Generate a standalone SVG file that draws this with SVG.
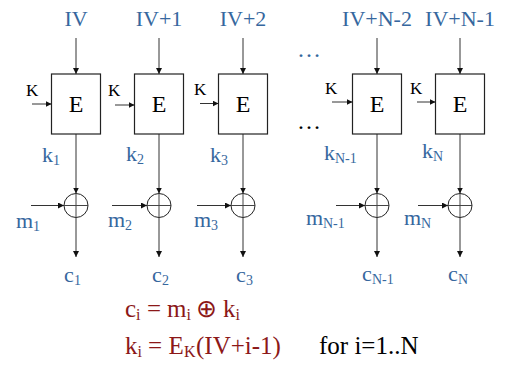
<svg xmlns="http://www.w3.org/2000/svg" width="515" height="367" viewBox="0 0 515 367" font-family="Liberation Serif, serif">
<defs>
<marker id="ah" viewBox="0 0 8 8" refX="8" refY="4" markerWidth="6" markerHeight="6" markerUnits="userSpaceOnUse" orient="auto">
<path d="M0,0 L8,4 L0,8 z" fill="#111"/>
</marker>
</defs>
<rect width="515" height="367" fill="#fff"/>

<g id="labels-top" fill="#36679E" font-size="22" text-anchor="middle">
<text x="76" y="26" font-family="Liberation Serif">IV</text>
<text x="159" y="26" font-family="Liberation Serif">IV+1</text>
<text x="243" y="26" font-family="Liberation Serif">IV+2</text>
<text x="377" y="26" font-family="Liberation Serif">IV+N-2</text>
<text x="460" y="26" font-family="Liberation Serif">IV+N-1</text>
</g>

<g id="dots" font-size="24">
<text x="297" y="57" fill="#36679E" font-family="Liberation Serif">…</text>
<text x="297" y="129" fill="#000" font-family="Liberation Serif">…</text>
</g>

<g id="connectors" stroke="#333" stroke-width="1" fill="none" marker-end="url(#ah)">
<line x1="76" y1="38" x2="76" y2="74"/>
<line x1="159" y1="38" x2="159" y2="74"/>
<line x1="243" y1="38" x2="243" y2="74"/>
<line x1="377" y1="38" x2="377" y2="74"/>
<line x1="460" y1="38" x2="460" y2="74"/>
<line x1="32" y1="104" x2="51.5" y2="104"/>
<line x1="115" y1="105" x2="134.5" y2="105"/>
<line x1="200" y1="103.5" x2="218.5" y2="103.5"/>
<line x1="332" y1="102" x2="352.5" y2="102"/>
<line x1="417" y1="102" x2="435.5" y2="102"/>
<line x1="76" y1="134" x2="76" y2="193.5"/>
<line x1="159" y1="134" x2="159" y2="193.5"/>
<line x1="243" y1="134" x2="243" y2="193.5"/>
<line x1="377" y1="134" x2="377" y2="193.5"/>
<line x1="460" y1="134" x2="460" y2="193.5"/>
<line x1="31" y1="205.5" x2="64" y2="205.5"/>
<line x1="112" y1="205.5" x2="147" y2="205.5"/>
<line x1="197" y1="205.5" x2="231" y2="205.5"/>
<line x1="336" y1="205.5" x2="365" y2="205.5"/>
<line x1="418" y1="205.5" x2="448" y2="205.5"/>
<line x1="76" y1="217.5" x2="76" y2="257"/>
<line x1="159" y1="217.5" x2="159" y2="257"/>
<line x1="243" y1="217.5" x2="243" y2="257"/>
<line x1="377" y1="217.5" x2="377" y2="257"/>
<line x1="460" y1="217.5" x2="460" y2="257"/>
</g>

<g id="enc1"><rect x="51.5" y="74" width="49" height="60" fill="#fff" stroke="#222" stroke-width="1.2"/><text x="76" y="112" font-size="24" text-anchor="middle" font-family="Liberation Serif">E</text><text x="26" y="96" font-size="17" font-family="Liberation Serif">K</text></g>
<g id="enc2"><rect x="134.5" y="74" width="49" height="60" fill="#fff" stroke="#222" stroke-width="1.2"/><text x="159" y="112" font-size="24" text-anchor="middle" font-family="Liberation Serif">E</text><text x="108" y="96" font-size="17" font-family="Liberation Serif">K</text></g>
<g id="enc3"><rect x="218.5" y="74" width="49" height="60" fill="#fff" stroke="#222" stroke-width="1.2"/><text x="243" y="112" font-size="24" text-anchor="middle" font-family="Liberation Serif">E</text><text x="194" y="95" font-size="17" font-family="Liberation Serif">K</text></g>
<g id="enc4"><rect x="352.5" y="74" width="49" height="60" fill="#fff" stroke="#222" stroke-width="1.2"/><text x="377" y="112" font-size="24" text-anchor="middle" font-family="Liberation Serif">E</text><text x="325" y="94" font-size="17" font-family="Liberation Serif">K</text></g>
<g id="enc5"><rect x="435.5" y="74" width="49" height="60" fill="#fff" stroke="#222" stroke-width="1.2"/><text x="460" y="112" font-size="24" text-anchor="middle" font-family="Liberation Serif">E</text><text x="410" y="94" font-size="17" font-family="Liberation Serif">K</text></g>

<g id="xor1" fill="none" stroke="#222"><circle cx="76" cy="205.5" r="12"/><path d="M64,205.5H88M76,193.5V217.5" stroke="#444"/></g>
<g id="xor2" fill="none" stroke="#222"><circle cx="159" cy="205.5" r="12"/><path d="M147,205.5H171M159,193.5V217.5" stroke="#444"/></g>
<g id="xor3" fill="none" stroke="#222"><circle cx="243" cy="205.5" r="12"/><path d="M231,205.5H255M243,193.5V217.5" stroke="#444"/></g>
<g id="xor4" fill="none" stroke="#222"><circle cx="377" cy="205.5" r="12"/><path d="M365,205.5H389M377,193.5V217.5" stroke="#444"/></g>
<g id="xor5" fill="none" stroke="#222"><circle cx="460" cy="205.5" r="12"/><path d="M448,205.5H472M460,193.5V217.5" stroke="#444"/></g>

<g id="k-labels" fill="#36679E" font-family="Liberation Serif">
<text x="42" y="162" font-size="22" font-family="Liberation Serif">k</text><text x="53" y="165" font-size="14" font-family="Liberation Serif">1</text>
<text x="126" y="161" font-size="22" font-family="Liberation Serif">k</text><text x="137" y="164" font-size="14" font-family="Liberation Serif">2</text>
<text x="210" y="162" font-size="22" font-family="Liberation Serif">k</text><text x="221" y="165" font-size="14" font-family="Liberation Serif">3</text>
<text x="324" y="160" font-size="22" font-family="Liberation Serif">k</text><text x="335" y="163" font-size="14" font-family="Liberation Serif">N-1</text>
<text x="422" y="158" font-size="22" font-family="Liberation Serif">k</text><text x="433" y="161" font-size="14" font-family="Liberation Serif">N</text>
</g>

<g id="m-labels" fill="#36679E" font-family="Liberation Serif">
<text x="16" y="228" font-size="22" font-family="Liberation Serif">m</text><text x="33" y="231" font-size="14" font-family="Liberation Serif">1</text>
<text x="108" y="227" font-size="22" font-family="Liberation Serif">m</text><text x="125" y="230" font-size="14" font-family="Liberation Serif">2</text>
<text x="194" y="227" font-size="22" font-family="Liberation Serif">m</text><text x="211" y="230" font-size="14" font-family="Liberation Serif">3</text>
<text x="306" y="225" font-size="22" font-family="Liberation Serif">m</text><text x="323" y="228" font-size="14" font-family="Liberation Serif">N-1</text>
<text x="404" y="225" font-size="22" font-family="Liberation Serif">m</text><text x="421" y="228" font-size="14" font-family="Liberation Serif">N</text>
</g>

<g id="c-labels" fill="#36679E" font-family="Liberation Serif">
<text x="64" y="282" font-size="22" font-family="Liberation Serif">c</text><text x="74" y="285" font-size="14" font-family="Liberation Serif">1</text>
<text x="152" y="282" font-size="22" font-family="Liberation Serif">c</text><text x="162" y="285" font-size="14" font-family="Liberation Serif">2</text>
<text x="236" y="282" font-size="22" font-family="Liberation Serif">c</text><text x="246" y="285" font-size="14" font-family="Liberation Serif">3</text>
<text x="362" y="281" font-size="22" font-family="Liberation Serif">c</text><text x="372" y="284" font-size="14" font-family="Liberation Serif">N-1</text>
<text x="448" y="281" font-size="22" font-family="Liberation Serif">c</text><text x="458" y="284" font-size="14" font-family="Liberation Serif">N</text>
</g>

<g id="formulas" fill="#8C1818" font-family="Liberation Serif">
<text x="125" y="317" font-size="25" font-family="Liberation Serif">c</text>
<text x="136" y="320" font-size="16" font-family="Liberation Serif">i</text>
<text x="147" y="317" font-size="25" font-family="Liberation Serif">=</text>
<text x="167" y="317" font-size="25" font-family="Liberation Serif">m</text>
<text x="186.5" y="320" font-size="16" font-family="Liberation Serif">i</text>
<text x="196" y="317" font-size="25" font-family="Liberation Serif">⊕</text>
<text x="223" y="317" font-size="25" font-family="Liberation Serif">k</text>
<text x="235.5" y="320" font-size="16" font-family="Liberation Serif">i</text>
<text x="125" y="354" font-size="25" font-family="Liberation Serif">k</text>
<text x="137.5" y="357" font-size="16" font-family="Liberation Serif">i</text>
<text x="148" y="354" font-size="25" font-family="Liberation Serif">=</text>
<text x="168.5" y="354" font-size="25" font-family="Liberation Serif">E</text>
<text x="184" y="357" font-size="16" font-family="Liberation Serif">K</text>
<text x="196" y="354" font-size="25" font-family="Liberation Serif">(IV+i-1)</text>
<text x="319" y="354" font-size="25" fill="#000" font-family="Liberation Serif">for i=1..N</text>
</g>
</svg>
